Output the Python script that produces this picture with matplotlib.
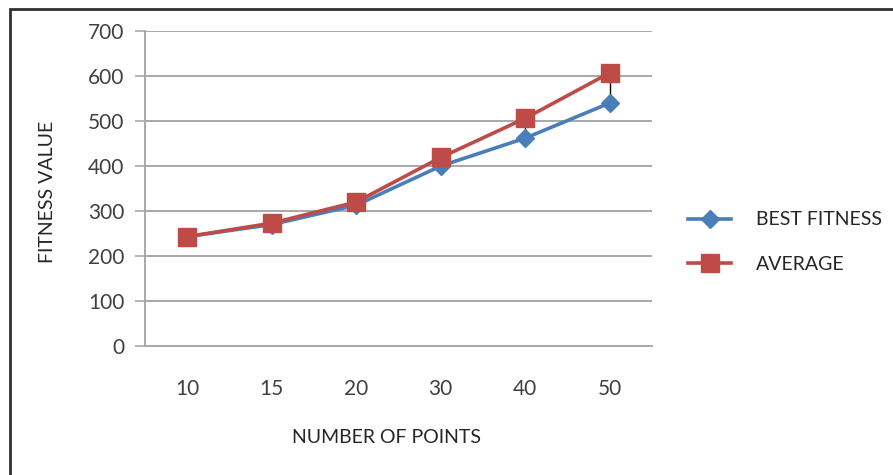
import matplotlib
matplotlib.use("Agg")
import matplotlib.pyplot as plt
from matplotlib.patches import Rectangle

categories = ["10", "15", "20", "30", "40", "50"]
best_fitness = [243, 270, 313, 400, 462, 540]
average = [243, 273, 320, 419, 506, 607]
y_ticks = [0, 100, 200, 300, 400, 500, 600, 700]

plt.rcParams["font.family"] = ["Lato", "DejaVu Sans"]

fig = plt.figure(figsize=(8.93, 4.75), dpi=100)
fig.patch.set_facecolor("white")

# outer chart frame (open to the right and bottom)
frame = Rectangle((9.5 / 893, -0.1), 1.2, 1 - 8.5 / 475 + 0.1,
                  transform=fig.transFigure, fill=False,
                  edgecolor="#303030", linewidth=2.0, zorder=0)
fig.patches.append(frame)

ax = fig.add_axes([145 / 893, 1 - 346 / 475, (652 - 145) / 893, (346 - 31) / 475])
x = list(range(len(categories)))

ax.set_xlim(-0.5, len(categories) - 0.5)
ax.set_ylim(0, 700)
ax.set_yticks(y_ticks)
ax.set_xticks(x)
ax.set_xticklabels(categories)

grid_col = "#a8a8a8"
ax.grid(axis="y", color=grid_col, linewidth=1.4)
ax.set_axisbelow(True)
for s in ("top", "right"):
    ax.spines[s].set_visible(False)
for s in ("left", "bottom"):
    ax.spines[s].set_color(grid_col)
    ax.spines[s].set_linewidth(1.4)

ax.tick_params(axis="y", direction="out", length=7, width=1.2, color=grid_col,
               labelsize=15, labelcolor="#404040", pad=8)
ax.tick_params(axis="x", length=0, labelsize=15, labelcolor="#404040", pad=24)

# high-low lines between the two series
ax.vlines(x, best_fitness, average, colors="black", linewidth=1.0, zorder=2)

blue = "#4a7ebb"
red = "#be4b48"
ax.plot(x, best_fitness, color=blue, linewidth=2.6, marker="D", markersize=9,
        markeredgecolor=blue, label="BEST FITNESS", zorder=3)
ax.plot(x, average, color=red, linewidth=2.6, marker="s", markersize=12.5,
        markeredgecolor=red, label="AVERAGE", zorder=4)

ax.set_ylabel("FITNESS VALUE", fontsize=14, color="#262626")
ax.yaxis.set_label_coords(-0.175, 0.49)
ax.set_xlabel("NUMBER OF POINTS", fontsize=14, color="#262626")
ax.xaxis.set_label_coords(0.477, -0.262)

leg = ax.legend(loc="center left", bbox_to_anchor=(1.056, 0.33), frameon=False,
                fontsize=14, handlelength=2.2, labelspacing=1.4, handletextpad=1.3,
                labelcolor="#262626", borderaxespad=0)

fig.savefig("out.png", dpi=100, facecolor="white")
